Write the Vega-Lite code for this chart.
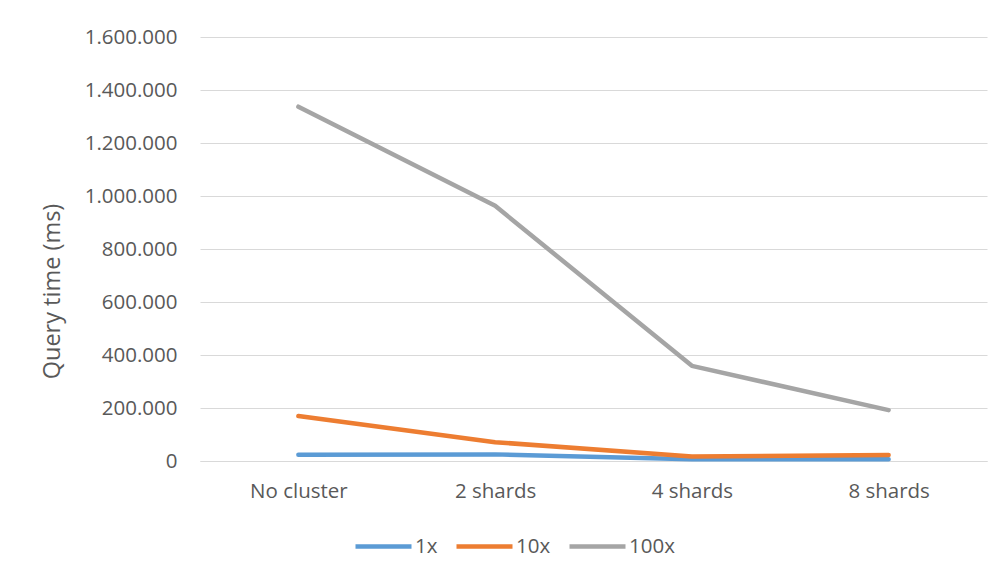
{
  "$schema": "https://vega.github.io/schema/vega-lite/v6.json",
  "autosize": "none",
  "width": 787,
  "height": 424,
  "padding": {"left": 200, "top": 37, "right": 17, "bottom": 116},
  "background": "white",
  "config": {
    "font": "Open Sans",
    "view": {"stroke": null},
    "locale": {"number": {"decimal": ",", "thousands": ".", "grouping": [3], "currency": ["", "€"]}}
  },
  "data": {
    "values": [
      {"cluster": "No cluster", "series": "1x", "time": 24000},
      {"cluster": "2 shards", "series": "1x", "time": 25000},
      {"cluster": "4 shards", "series": "1x", "time": 6500},
      {"cluster": "8 shards", "series": "1x", "time": 7000},
      {"cluster": "No cluster", "series": "10x", "time": 170000},
      {"cluster": "2 shards", "series": "10x", "time": 71000},
      {"cluster": "4 shards", "series": "10x", "time": 17000},
      {"cluster": "8 shards", "series": "10x", "time": 22500},
      {"cluster": "No cluster", "series": "100x", "time": 1337000},
      {"cluster": "2 shards", "series": "100x", "time": 963000},
      {"cluster": "4 shards", "series": "100x", "time": 359000},
      {"cluster": "8 shards", "series": "100x", "time": 192000}
    ]
  },
  "mark": {"type": "line", "strokeWidth": 4.5, "strokeCap": "round", "strokeJoin": "round"},
  "encoding": {
    "x": {
      "field": "cluster", "type": "nominal",
      "sort": ["No cluster", "2 shards", "4 shards", "8 shards"],
      "scale": {"type": "point", "padding": 0.5},
      "axis": {
        "title": null, "labelAngle": 0, "ticks": false, "grid": false,
        "domainColor": "#d9d9d9", "domainWidth": 1.2,
        "labelFontSize": 20.5, "labelColor": "#595959", "labelPadding": 20
      }
    },
    "y": {
      "field": "time", "type": "quantitative",
      "scale": {"domain": [0, 1600000], "nice": false},
      "axis": {
        "title": "Query time (ms)", "titleFontSize": 23.5, "titleFontWeight": "normal", "titleColor": "#595959",
        "titlePadding": 20, "titleY": 254,
        "format": ",.0f", "values": [0, 200000, 400000, 600000, 800000, 1000000, 1200000, 1400000, 1600000],
        "labelOverlap": false,
        "domain": false, "ticks": false, "gridColor": "#d9d9d9", "gridWidth": 1.2,
        "labelFontSize": 20.5, "labelColor": "#595959", "labelPadding": 23
      }
    },
    "color": {
      "field": "series", "type": "nominal",
      "scale": {"domain": ["1x", "10x", "100x"], "range": ["#5b9bd5", "#ed7d31", "#a5a5a5"]},
      "legend": {
        "title": null, "orient": "none", "direction": "horizontal",
        "legendX": 153, "legendY": 479,
        "symbolType": "stroke", "symbolStrokeWidth": 4.5, "symbolSize": 3136,
        "labelFontSize": 20.5, "labelColor": "#595959", "labelOffset": 1,
        "columnPadding": 9
      }
    }
  }
}
